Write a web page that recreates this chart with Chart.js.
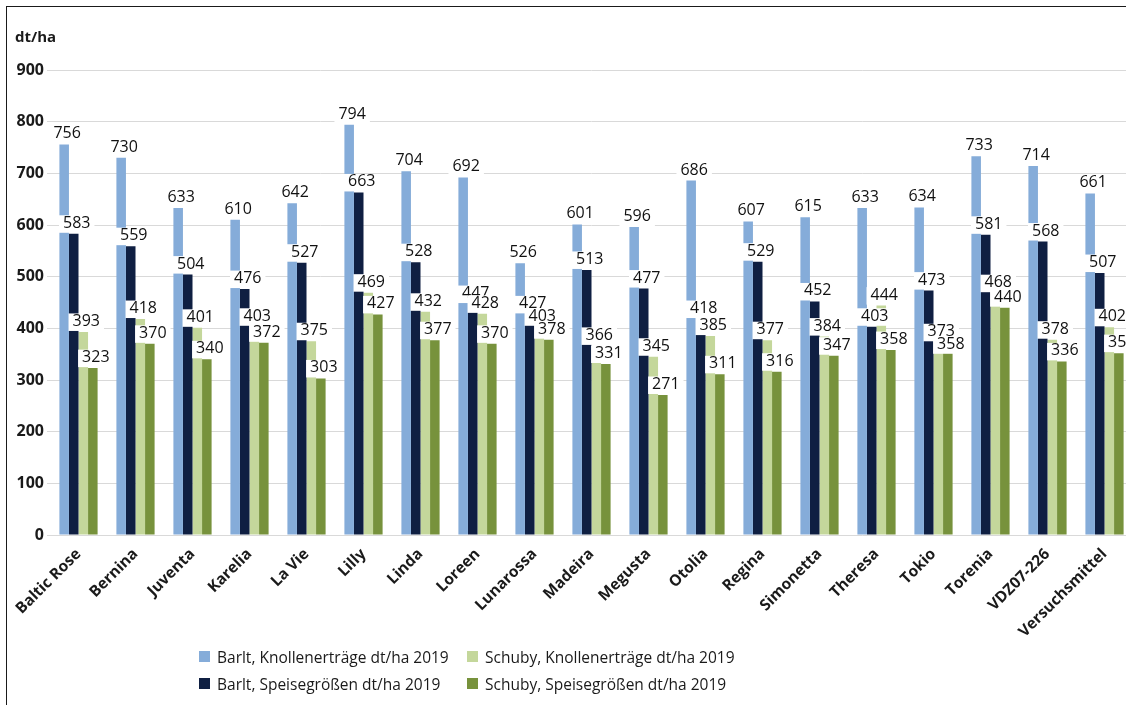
<!DOCTYPE html>
<html lang="de">
<head>
<meta charset="utf-8">
<title>Knollenerträge und Speisegrößen 2019</title>
<script src="https://cdn.jsdelivr.net/npm/chart.js@4.4.1/dist/chart.umd.min.js"></script>
<style>
  html, body { margin: 0; padding: 0; background: #fff; overflow: hidden; }
  body { width: 1126px; height: 705px; position: relative; font-family: "Open Sans", sans-serif; }
  #frame { position: absolute; left: 6px; top: 6px; width: 1200px; height: 800px;
           border-left: 1.5px solid #1a1a1a; border-top: 1.5px solid #1a1a1a; }
  #salesChart { position: absolute; left: 0; top: 0; }
  #legend { position: absolute; left: 199px; top: 646px; display: grid;
            grid-template-columns: 268px auto; grid-template-rows: 21px 21px;
            grid-auto-flow: column; row-gap: 6px; font-size: 15.5px; color: #1a1a1a; }
  .item { display: flex; align-items: center; white-space: nowrap; }
  .swatch { width: 11px; height: 11px; margin-right: 7px; flex: none; }
</style>
</head>
<body>
<div id="frame"></div>
<canvas id="salesChart" width="1140" height="705"></canvas>
<div id="legend"></div>
<script>
// Sorten (x-Achse)
const categories = ['Baltic Rose', 'Bernina', 'Juventa', 'Karelia', 'La Vie', 'Lilly', 'Linda', 'Loreen',
    'Lunarossa', 'Madeira', 'Megusta', 'Otolia', 'Regina', 'Simonetta', 'Theresa', 'Tokio', 'Torenia',
    'VDZ07-226', 'Versuchsmittel'];

// Werte in dt/ha
const barltKnollen  = [756, 730, 633, 610, 642, 794, 704, 692, 526, 601, 596, 686, 607, 615, 633, 634, 733, 714, 661];
const barltSpeise   = [583, 559, 504, 476, 527, 663, 528, 447, 427, 513, 477, 418, 529, 452, 403, 473, 581, 568, 507];
const schubyKnollen = [393, 418, 401, 403, 375, 469, 432, 428, 403, 366, 345, 385, 377, 384, 444, 373, 468, 378, 402];
const schubySpeise  = [323, 370, 340, 372, 303, 427, 377, 370, 378, 331, 271, 311, 316, 347, 358, 358, 440, 336, 352];

const seriesNames = ['Barlt, Knollenerträge dt/ha 2019', 'Barlt, Speisegrößen dt/ha 2019',
    'Schuby, Knollenerträge dt/ha 2019', 'Schuby, Speisegrößen dt/ha 2019'];
const yMin = 0, yMax = 900, yStep = 100;

const seriesColors = ['#85acd9', '#0f1f42', '#c4d79b', '#77923c'];
const seriesData = [barltKnollen, barltSpeise, schubyKnollen, schubySpeise];

// value labels on a white box just above each bar; a label that would hit an
// earlier one of the same group is nudged right a little, or else moved down
const boxedLabels = {
    id: 'boxedLabels',
    afterDatasetsDraw(chart) {
        const ctx = chart.ctx;
        ctx.save();
        ctx.font = '16px "Open Sans", sans-serif';
        ctx.textAlign = 'center';
        ctx.textBaseline = 'alphabetic';
        const capH = 11.5;
        const metas = chart.data.datasets.map((d, i) => chart.getDatasetMeta(i));
        chart.data.labels.forEach((lbl, j) => {
            const placed = [];
            metas.forEach((meta, i) => {
                const bar = meta.data[j];
                const txt = String(chart.data.datasets[i].data[j]);
                const w = ctx.measureText(txt).width;
                const cx0 = bar.x + 3;
                let cx = cx0;
                let base = bar.y - 6;
                for (const r of placed) {
                    const hit = cx - w / 2 < r.right + 1 && cx + w / 2 > r.left - 1 &&
                        base - capH < r.bottom - 3 && base > r.top + 3;
                    if (!hit) continue;
                    const want = r.right + 2 + w / 2;
                    if (want - cx0 <= 10) cx = want;
                    else base = r.bottom + 1 + capH;
                }
                placed.push({ left: cx - w / 2, right: cx + w / 2, top: base - capH, bottom: base });
                ctx.fillStyle = '#fff';
                ctx.fillRect(cx - w / 2 - 4, base - 12.5, w + 8, 17.5);
                ctx.fillStyle = '#111';
                ctx.fillText(txt, cx, base);
            });
        });
        ctx.restore();
    }
};

const ctx = document.getElementById('salesChart').getContext('2d');
const chart = new Chart(ctx, {
    type: 'bar',
    data: {
        labels: categories,
        datasets: seriesData.map((d, i) => ({
            label: seriesNames[i],
            data: d,
            backgroundColor: seriesColors[i],
            borderWidth: 0,
            categoryPercentage: 0.67,
            barPercentage: 1.0
        }))
    },
    options: {
        responsive: false,
        animation: false,
        layout: { padding: { left: 15, right: 7, top: 0, bottom: 70 } },
        plugins: {
            legend: { display: false },
            tooltip: { enabled: false },
            title: {
                display: true,
                text: 'dt/ha',
                align: 'start',
                color: '#1a1a1a',
                font: { family: '"Open Sans", sans-serif', size: 15, weight: 'bold' },
                padding: { top: 29, bottom: 23 }
            }
        },
        scales: {
            x: {
                grid: { display: false },
                border: { display: false },
                ticks: {
                    autoSkip: false,
                    maxRotation: 45,
                    minRotation: 45,
                    padding: 2,
                    color: '#1a1a1a',
                    font: { family: '"Open Sans", sans-serif', size: 15.5, weight: 'bold' }
                },
                afterFit(scale) { scale.height = 100; }
            },
            y: {
                min: yMin,
                max: yMax,
                border: { display: false },
                grid: { color: '#d9d9d9', lineWidth: 1, tickLength: 3 },
                ticks: {
                    stepSize: yStep,
                    padding: 3,
                    color: '#1a1a1a',
                    font: { family: '"Open Sans", sans-serif', size: 16, weight: 'bold' }
                },
                afterFit(scale) { scale.width = 35; }
            }
        }
    },
    plugins: [boxedLabels]
});

// legend in two columns
const legend = document.getElementById('legend');
seriesNames.forEach((name, i) => {
    const item = document.createElement('div');
    item.className = 'item';
    const sw = document.createElement('span');
    sw.className = 'swatch';
    sw.style.background = seriesColors[i];
    const txt = document.createElement('span');
    txt.textContent = name;
    item.appendChild(sw);
    item.appendChild(txt);
    legend.appendChild(item);
});
</script>
</body>
</html>
